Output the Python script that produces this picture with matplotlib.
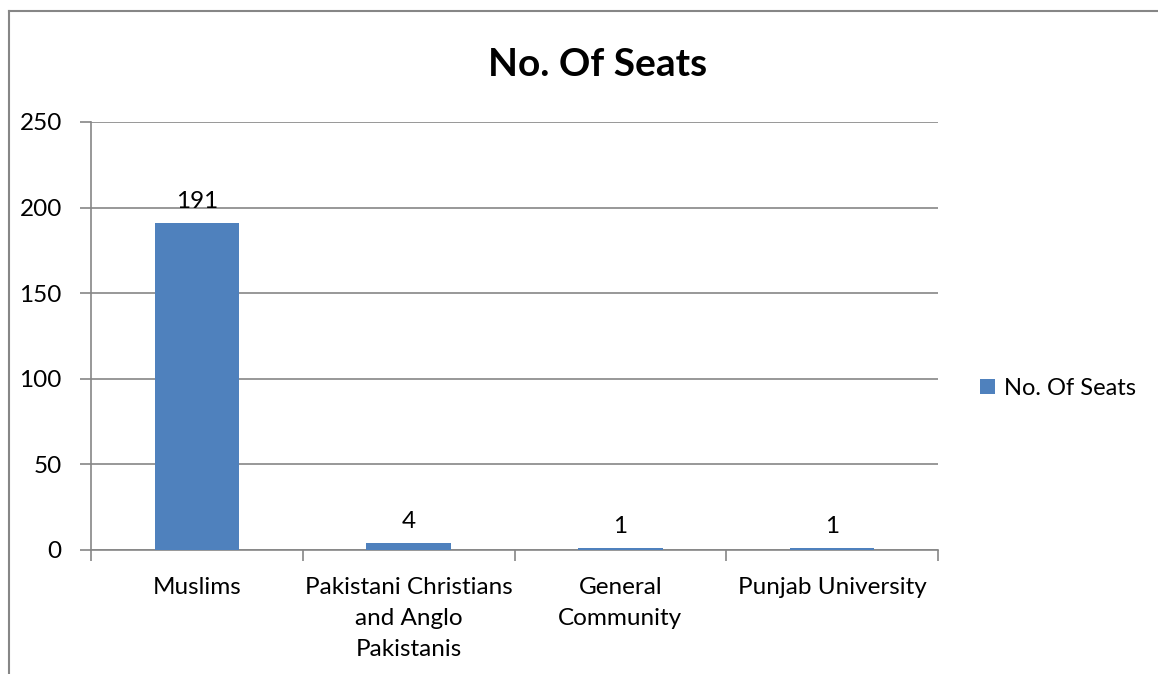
import matplotlib.pyplot as plt
import numpy as np
from matplotlib.lines import Line2D

plt.rcParams["font.family"] = ["Lato", "DejaVu Sans"]

categories = [
    "Muslims",
    "Pakistani Christians\nand Anglo\nPakistanis",
    "General\nCommunity",
    "Punjab University",
]
seats = [191, 4, 1, 1]
series_name = "No. Of Seats"

bar_color = "#4F81BD"
grid_color = "#868686"

fig = plt.figure(figsize=(11.58, 6.74), dpi=100)
W, H = 1158, 674
ax = fig.add_axes([91 / W, (H - 550) / H, (938 - 91) / W, (550 - 122) / H])

x = np.arange(len(categories))
bars = ax.bar(x, seats, width=0.4, color=bar_color, label=series_name, zorder=3)

ax.set_xlim(-0.5, len(categories) - 0.5)
ax.set_ylim(0, 250)
ax.set_yticks(range(0, 251, 50))
ax.yaxis.grid(True, color=grid_color, linewidth=1.2, zorder=0)
ax.tick_params(axis="y", length=8, width=1.2, color=grid_color, labelsize=17.5, pad=13)

# category boundaries carry the x tick marks, labels sit at the centres
ax.set_xticks(np.arange(len(categories) + 1) - 0.5)
ax.set_xticklabels([])
ax.tick_params(axis="x", length=8, width=1.2, color=grid_color)
for xi, label in zip(x, categories):
    ax.text(xi, -0.063, label, transform=ax.get_xaxis_transform(),
            ha="center", va="top", fontsize=17.5, linespacing=1.6)

for side in ["top", "right"]:
    ax.spines[side].set_visible(False)
for side in ["left", "bottom"]:
    ax.spines[side].set_color(grid_color)
    ax.spines[side].set_linewidth(1.2)

for rect, val in zip(bars, seats):
    ax.annotate(str(val), (rect.get_x() + rect.get_width() / 2, val),
                xytext=(0, 8), textcoords="offset points",
                ha="center", va="bottom", fontsize=17.5)

fig.text(598 / W, 1 - 65 / H, "No. Of Seats", ha="center", va="center",
         fontsize=28, fontweight="bold")

ax.legend(loc="center left", bbox_to_anchor=(1.049, 0.378), frameon=False,
          fontsize=17, handlelength=0.65, handleheight=0.65, handletextpad=0.4,
          borderaxespad=0, borderpad=0)

# chart area border (left and top edges)
fig.add_artist(Line2D([9 / W, 9 / W], [0, 1 - 11 / H], color=grid_color,
                      linewidth=1.5, transform=fig.transFigure))
fig.add_artist(Line2D([9 / W, 1], [1 - 11 / H, 1 - 11 / H], color=grid_color,
                      linewidth=1.5, transform=fig.transFigure))

fig.savefig("out.png", dpi=100)
